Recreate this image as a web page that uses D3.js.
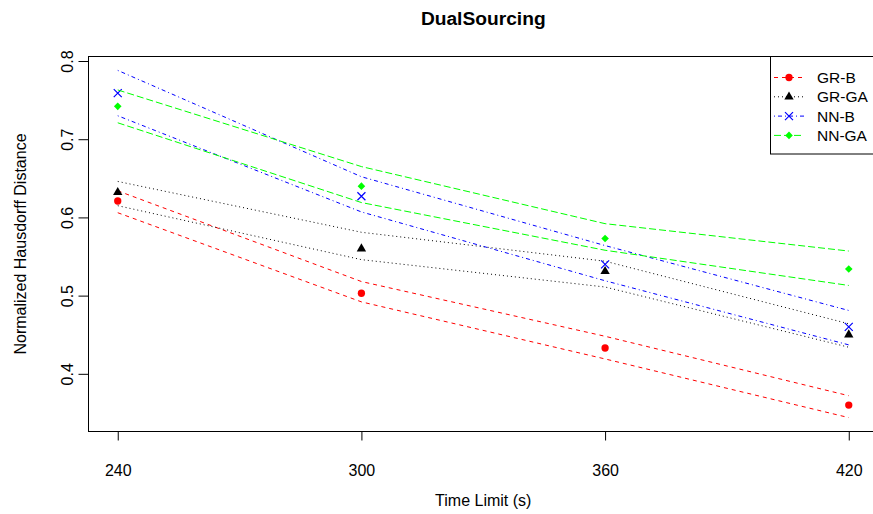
<!DOCTYPE html>
<html>
<head>
<meta charset="utf-8">
<script src="https://cdn.jsdelivr.net/npm/d3@7"></script>
<style>
  body { margin: 0; background: #fff; }
  svg { display: block; font-family: "Liberation Sans", Arial, sans-serif; }
</style>
</head>
<body>
<svg id="chart" width="873" height="514"></svg>
<script>
// time limits on the x axis
var timeLimits = [240, 300, 360, 420];
var yTicks = [0.4, 0.5, 0.6, 0.7, 0.8];
var seriesNames = ['GR-B', 'GR-GA', 'NN-B', 'NN-GA'];

// mean values (points) and upper / lower band lines
var grB = [0.621, 0.503, 0.433, 0.360];
var grBUpper = [0.634, 0.518, 0.448, 0.372];
var grBLower = [0.606, 0.492, 0.419, 0.344];

var grGA = [0.632, 0.560, 0.531, 0.450];
var grGAUpper = [0.646, 0.581, 0.544, 0.464];
var grGALower = [0.615, 0.546, 0.511, 0.434];

var nnB = [0.759, 0.627, 0.540, 0.460];
var nnBUpper = [0.788, 0.652, 0.564, 0.481];
var nnBLower = [0.730, 0.607, 0.519, 0.437];

var nnGA = [0.742, 0.640, 0.573, 0.534];
var nnGAUpper = [0.763, 0.665, 0.592, 0.557];
var nnGALower = [0.721, 0.619, 0.558, 0.513];

var series = [
  { name: seriesNames[0], pts: grB, up: grBUpper, lo: grBLower, color: '#ff0000', dash: '4,4', pch: 'circle' },
  { name: seriesNames[1], pts: grGA, up: grGAUpper, lo: grGALower, color: '#000000', dash: '1,3', pch: 'triangle' },
  { name: seriesNames[2], pts: nnB, up: nnBUpper, lo: nnBLower, color: '#0000ff', dash: '1,3,4,3', pch: 'cross' },
  { name: seriesNames[3], pts: nnGA, up: nnGAUpper, lo: nnGALower, color: '#00ff00', dash: '7,3', pch: 'diamond' }
];

var plotL = 88.5, plotR = 878, plotT = 56.5, plotB = 431.5;

// R style 4% axis extension
function pad(ext) {
  var r = ext[1] - ext[0];
  return [ext[0] - r * 0.04, ext[1] + r * 0.04];
}
var allY = [].concat.apply([], series.map(function(s) { return s.pts.concat(s.up, s.lo); }));

var x = d3.scaleLinear().domain(pad(d3.extent(timeLimits))).range([plotL, plotR]);
var y = d3.scaleLinear().domain(pad(d3.extent(allY))).range([plotB, plotT]);

var svg = d3.select('#chart');

// title
svg.append('text')
  .attr('x', (plotL + plotR) / 2)
  .attr('y', 25)
  .attr('text-anchor', 'middle')
  .style('font-size', '19.2px')
  .style('font-weight', 'bold')
  .text('DualSourcing');

// axes
var xAxis = svg.append('g')
  .attr('transform', 'translate(0,' + plotB + ')')
  .call(d3.axisBottom(x).tickValues(timeLimits).tickSize(9).tickFormat(d3.format('d')));
xAxis.select('.domain').remove();
xAxis.selectAll('line').attr('stroke', '#000');
xAxis.selectAll('text')
  .attr('y', 44.5)
  .attr('dy', 0)
  .attr('fill', '#000')
  .style('font-size', '16px')
  .style('font-family', '"Liberation Sans", Arial, sans-serif');

var yAxis = svg.append('g')
  .attr('transform', 'translate(' + plotL + ',0)')
  .call(d3.axisLeft(y).tickValues(yTicks).tickSize(10).tickFormat(d3.format('.1f')));
yAxis.select('.domain').remove();
yAxis.selectAll('line').attr('stroke', '#000');
yAxis.selectAll('text')
  .attr('x', 0)
  .attr('y', -16)
  .attr('dy', 0)
  .attr('transform', 'rotate(-90)')
  .attr('text-anchor', 'middle')
  .attr('fill', '#000')
  .style('font-size', '16px')
  .style('font-family', '"Liberation Sans", Arial, sans-serif');

// axis titles
svg.append('text')
  .attr('x', (plotL + plotR) / 2)
  .attr('y', 506)
  .attr('text-anchor', 'middle')
  .style('font-size', '16px')
  .text('Time Limit (s)');

svg.append('text')
  .attr('transform', 'translate(26,' + ((plotT + plotB) / 2) + ') rotate(-90)')
  .attr('text-anchor', 'middle')
  .style('font-size', '16px')
  .text('Normalized Hausdorff Distance');

// plot box
svg.append('rect')
  .attr('x', plotL)
  .attr('y', plotT)
  .attr('width', plotR - plotL)
  .attr('height', plotB - plotT)
  .attr('fill', 'none')
  .attr('stroke', '#000');

function marker(type) {
  if (type === 'circle') return d3.symbol().type(d3.symbolCircle).size(42)();
  if (type === 'triangle') return d3.symbol().type(d3.symbolTriangle).size(38)();
  if (type === 'cross') { var r = 4; return 'M' + -r + ',' + -r + 'L' + r + ',' + r + 'M' + -r + ',' + r + 'L' + r + ',' + -r; }
  var d = 3.8;
  return 'M0,' + -d + 'L' + d + ',0L0,' + d + 'L' + -d + ',0Z';
}

var line = d3.line()
  .x(function(d, i) { return x(timeLimits[i]); })
  .y(function(d) { return y(d); });

var plot = svg.append('g');

series.forEach(function(s) {
  [s.up, s.lo].forEach(function(band) {
    plot.append('path')
      .attr('d', line(band))
      .attr('fill', 'none')
      .attr('stroke', s.color)
      .attr('stroke-width', 1)
      .attr('stroke-dasharray', s.dash);
  });
  plot.selectAll(null)
    .data(s.pts)
    .enter()
    .append('path')
    .attr('transform', function(d, i) { return 'translate(' + x(timeLimits[i]) + ',' + y(d) + ')'; })
    .attr('d', marker(s.pch))
    .attr('fill', s.pch === 'cross' ? 'none' : s.color)
    .attr('stroke', s.color)
    .attr('stroke-width', s.pch === 'cross' ? 1.2 : 0);
});

// legend
var legend = svg.append('g');
legend.append('rect')
  .attr('x', 770.5)
  .attr('y', plotT)
  .attr('width', plotR - 770.5)
  .attr('height', 154 - plotT)
  .attr('fill', '#fff')
  .attr('stroke', '#000');

var rows = legend.selectAll('g.row')
  .data(series)
  .enter()
  .append('g')
  .attr('class', 'row')
  .attr('transform', function(d, i) { return 'translate(0,' + (77.5 + i * 19.3) + ')'; });

rows.append('line')
  .attr('x1', 774)
  .attr('x2', 804)
  .attr('stroke', function(d) { return d.color; })
  .attr('stroke-dasharray', function(d) { return d.dash; });

rows.append('path')
  .attr('transform', 'translate(789,0)')
  .attr('d', function(d) { return marker(d.pch); })
  .attr('fill', function(d) { return d.pch === 'cross' ? 'none' : d.color; })
  .attr('stroke', function(d) { return d.color; })
  .attr('stroke-width', function(d) { return d.pch === 'cross' ? 1.2 : 0; });

rows.append('text')
  .attr('x', 817)
  .attr('y', 5.5)
  .style('font-size', '15.5px')
  .text(function(d) { return d.name; });
</script>
</body>
</html>
